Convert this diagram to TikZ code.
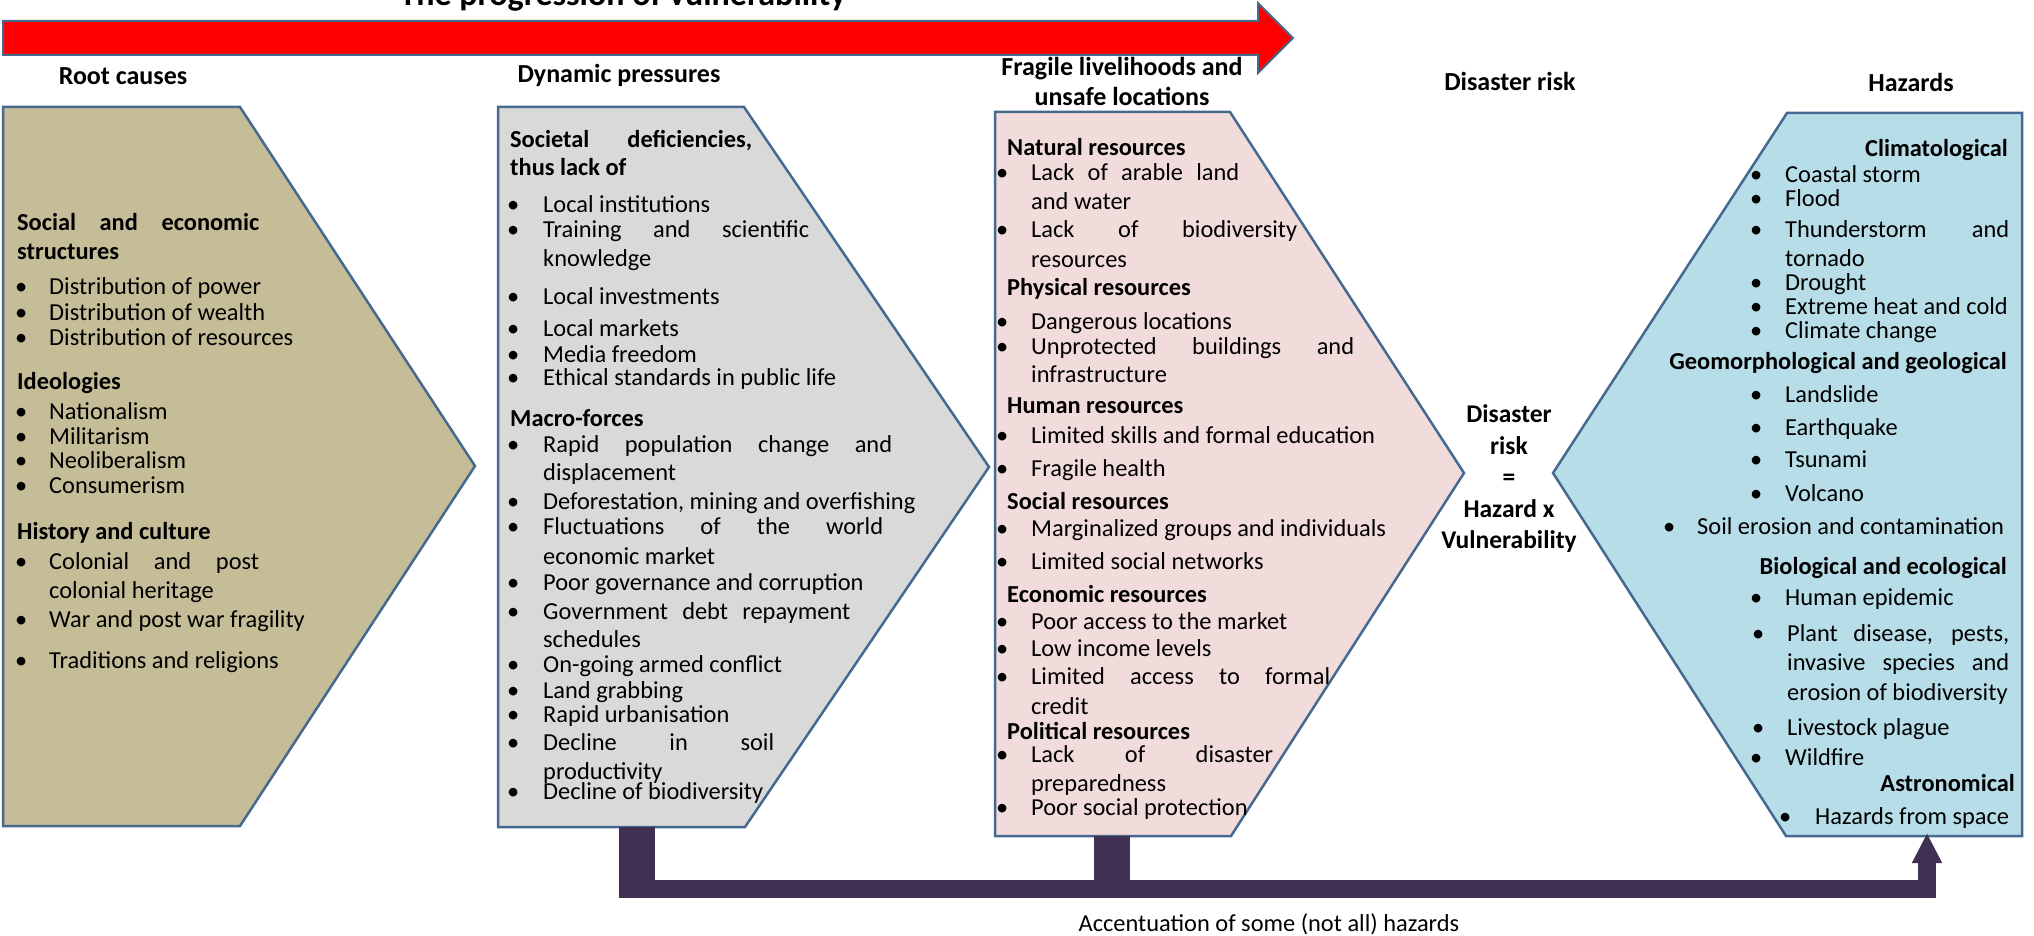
\documentclass[tikz,border=0pt]{standalone}
\usepackage{fontspec}
\setmainfont{Carlito}
\usetikzlibrary{arrows.meta}

\definecolor{tanfill}{HTML}{C4BD97}
\definecolor{grayfill}{HTML}{D9D9D9}
\definecolor{pinkfill}{HTML}{F2DCDB}
\definecolor{bluefill}{HTML}{B7DDE8}
\definecolor{edge}{HTML}{46698F}
\definecolor{barcol}{HTML}{403152}

\begin{document}
\begin{tikzpicture}[x=1pt,y=-1pt,
  box/.style={draw=edge, line width=2.5pt, line join=miter},
  txt/.style={anchor=mid west, inner sep=0pt, yshift=-5pt, font=\fontsize{24.4}{29}\selectfont},
  head/.style={txt, font=\fontsize{24.4}{29}\selectfont\bfseries},
  item/.style={txt, execute at begin node={\llap{\makebox[#1][c]{\textbullet}}}},
  item/.default=58pt,
  colhead/.style={inner sep=0pt, align=center, font=\fontsize{26}{30}\selectfont\bfseries}]

  \useasboundingbox (0,0) rectangle (2034,936);

  % Progression arrow
  \node[anchor=base, inner sep=0pt, font=\fontsize{34}{40}\selectfont\bfseries] (title) at (623,6) {The progression of vulnerability};
  \draw[edge, line width=2pt, fill=red] (3,21) -- (1258,21) -- (1258,3) -- (1293,38) -- (1258,73) -- (1258,55) -- (3,55) -- cycle;

  % Boxes
  \draw[box, fill=tanfill] (3,107) -- (240,107) -- (475,466) -- (240,826) -- (3,826) -- cycle;
  \draw[box, fill=grayfill] (498,107) -- (744,107) -- (989,467) -- (745,827) -- (498,827) -- cycle;
  \draw[box, fill=pinkfill] (995,112) -- (1230,112) -- (1464,473) -- (1231,836) -- (995,836) -- cycle;
  \draw[box, fill=bluefill] (1787,113) -- (2022,113) -- (2022,836) -- (1786,836) -- (1553,473) -- cycle;

  % Column headers
  \node[colhead] (root) at (123,76) {Root causes};
  \node[colhead] (dyn) at (619,75) {Dynamic pressures};
  \node[colhead] (frag) at (1122,81) {Fragile livelihoods and\\unsafe locations};
  \node[colhead] (drisk) at (1510,81) {Disaster risk};
  \node[colhead] (haz) at (1911,82) {Hazards};
  \node[colhead, font=\fontsize{25.5}{31.5}\selectfont\bfseries] (risk) at (1509,479) {Disaster\\risk\\=\\Hazard x\\Vulnerability};

  % Root causes
  \node[head] (rc1) at (17,223) {\makebox[242pt][s]{Social and economic}};
  \node[head] (rc2) at (17,252) {structures};
  \node[item=56pt] (rc3) at (49,287) {Distribution of power};
  \node[item=56pt] (rc4) at (49,313) {Distribution of wealth};
  \node[item=56pt] (rc5) at (49,338) {Distribution of resources};
  \node[head] (rc6) at (17,382) {Ideologies};
  \node[item=56pt] (rc7) at (49,412) {Nationalism};
  \node[item=56pt] (rc8) at (49,437) {Militarism};
  \node[item=56pt] (rc9) at (49,461) {Neoliberalism};
  \node[item=56pt] (rc10) at (49,486) {Consumerism};
  \node[head] (rc11) at (17,532) {History and culture};
  \node[item=56pt] (rc12) at (49,562) {\makebox[210pt][s]{Colonial and post}};
  \node[txt] (rc13) at (49,591) {colonial heritage};
  \node[item=56pt] (rc14) at (49,620) {War and post war fragility};
  \node[item=56pt] (rc15) at (49,661) {Traditions and religions};

  % Dynamic pressures
  \node[head] (dp1) at (510,140) {\makebox[242pt][s]{Societal deficiencies,}};
  \node[head] (dp2) at (510,168) {thus lack of};
  \node[item=60pt] (dp3) at (543,205) {Local institutions};
  \node[item=60pt] (dp4) at (543,230) {\makebox[266pt][s]{Training and scientific}};
  \node[txt] (dp5) at (543,259) {knowledge};
  \node[item=60pt] (dp6) at (543,297) {Local investments};
  \node[item=60pt] (dp7) at (543,329) {Local markets};
  \node[item=60pt] (dp8) at (543,355) {Media freedom};
  \node[item=60pt] (dp9) at (543,378) {Ethical standards in public life};
  \node[head] (dp10) at (510,419) {Macro-forces};
  \node[item=60pt] (dp11) at (543,445) {\makebox[349pt][s]{Rapid population change and}};
  \node[txt] (dp12) at (543,473) {displacement};
  \node[item=60pt] (dp13) at (543,502) {Deforestation, mining and overfishing};
  \node[item=60pt] (dp14) at (543,527) {\makebox[340pt][s]{Fluctuations of the world}};
  \node[txt] (dp15) at (543,557) {economic market};
  \node[item=60pt] (dp16) at (543,583) {Poor governance and corruption};
  \node[item=60pt] (dp17) at (543,612) {\makebox[307pt][s]{Government debt repayment}};
  \node[txt] (dp18) at (543,640) {schedules};
  \node[item=60pt] (dp19) at (543,665) {On-going armed conflict};
  \node[item=60pt] (dp20) at (543,691) {Land grabbing};
  \node[item=60pt] (dp21) at (543,715) {Rapid urbanisation};
  \node[item=60pt] (dp22) at (543,743) {\makebox[231pt][s]{Decline in soil}};
  \node[txt] (dp23) at (543,772) {productivity};
  \node[item=60pt] (dp24) at (543,792) {Decline of biodiversity};

  % Fragile livelihoods
  \node[head] (fl1) at (1007,148) {Natural resources};
  \node[item] (fl2) at (1031,173) {\makebox[208pt][s]{Lack of arable land}};
  \node[txt] (fl3) at (1031,202) {and water};
  \node[item] (fl4) at (1031,230) {\makebox[266pt][s]{Lack of biodiversity}};
  \node[txt] (fl5) at (1031,260) {resources};
  \node[head] (fl6) at (1007,288) {Physical resources};
  \node[item] (fl7) at (1031,322) {Dangerous locations};
  \node[item] (fl8) at (1031,347) {\makebox[323pt][s]{Unprotected buildings and}};
  \node[txt] (fl9) at (1031,375) {infrastructure};
  \node[head] (fl10) at (1007,406) {Human resources};
  \node[item] (fl11) at (1031,436) {Limited skills and formal education};
  \node[item] (fl12) at (1031,469) {Fragile health};
  \node[head] (fl13) at (1007,502) {Social resources};
  \node[item] (fl14) at (1031,529) {Marginalized groups and individuals};
  \node[item] (fl15) at (1031,562) {Limited social networks};
  \node[head] (fl16) at (1007,595) {Economic resources};
  \node[item] (fl17) at (1031,622) {Poor access to the market};
  \node[item] (fl18) at (1031,649) {Low income levels};
  \node[item] (fl19) at (1031,677) {\makebox[299pt][s]{Limited access to formal}};
  \node[txt] (fl20) at (1031,707) {credit};
  \node[head] (fl21) at (1007,732) {Political resources};
  \node[item] (fl22) at (1031,755) {\makebox[242pt][s]{Lack of disaster}};
  \node[txt] (fl23) at (1031,784) {preparedness};
  \node[item] (fl24) at (1031,808) {Poor social protection};

  % Hazards
  \node[head, anchor=mid east] (hz1) at (2008,149) {Climatological};
  \node[item] (hz2) at (1785,175) {Coastal storm};
  \node[item] (hz3) at (1785,199) {Flood};
  \node[item] (hz4) at (1785,230) {\makebox[224pt][s]{Thunderstorm and}};
  \node[txt] (hz5) at (1785,259) {tornado};
  \node[item] (hz6) at (1785,283) {Drought};
  \node[item] (hz7) at (1785,307) {Extreme heat and cold};
  \node[item] (hz8) at (1785,331) {Climate change};
  \node[head, anchor=mid east] (hz9) at (2007,362) {Geomorphological and geological};
  \node[item] (hz10) at (1785,395) {Landslide};
  \node[item] (hz11) at (1785,428) {Earthquake};
  \node[item] (hz12) at (1785,460) {Tsunami};
  \node[item] (hz13) at (1785,494) {Volcano};
  \node[item=56pt] (hz14) at (1697,527) {Soil erosion and contamination};
  \node[head, anchor=mid east] (hz15) at (2007,567) {Biological and ecological};
  \node[item] (hz16) at (1785,598) {Human epidemic};
  \node[item] (hz17) at (1787,634) {\makebox[222pt][s]{Plant disease, pests,}};
  \node[txt] (hz18) at (1787,663) {\makebox[222pt][s]{invasive species and}};
  \node[txt] (hz19) at (1787,693) {erosion of biodiversity};
  \node[item] (hz20) at (1787,728) {Livestock plague};
  \node[item] (hz21) at (1785,758) {Wildfire};
  \node[head, anchor=mid east] (hz22) at (2015,784) {Astronomical};
  \node[item=60pt] (hz23) at (1815,817) {Hazards from space};

  % Accentuation of hazards
  \coordinate (dpfoot) at (637,827);
  \coordinate (flfoot) at (1112,836);
  \coordinate (hzfoot) at (1927,833);
  \fill[barcol] ([xshift=-18pt]dpfoot) rectangle (655,898);
  \fill[barcol] ([xshift=-18pt]flfoot) rectangle (1130,898);
  \draw[barcol, line width=18pt, -{Triangle[width=28pt,length=30pt]}] (619,889) -| (hzfoot);
  \node[txt, anchor=mid] (acc) at (1269,924) {Accentuation of some (not all) hazards};
\end{tikzpicture}
\end{document}
